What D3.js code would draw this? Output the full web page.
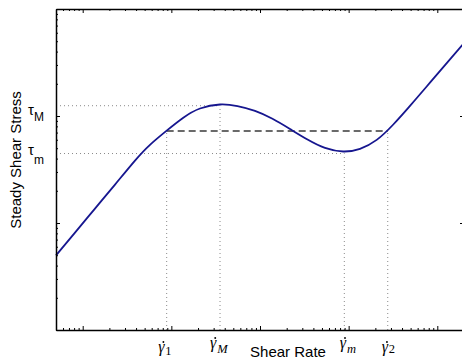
<!DOCTYPE html>
<html><head><meta charset="utf-8">
<script src="https://cdn.jsdelivr.net/npm/d3@7"></script>
<style>body{margin:0;background:#fff;} svg{display:block;}</style>
</head><body>
<svg id="chart" width="462" height="358"></svg>
<script>
// ---- data (log-log flow curve) ----
const shearRate   = [0.005, 0.00819, 0.01376, 0.02315, 0.0389, 0.0574, 0.0886, 0.1364, 0.2105, 0.354,
                     0.557, 0.878, 1.383, 2.180, 3.434, 5.41, 8.70,
                     13.43, 20.72, 31.88, 49.18, 75.9, 116.8, 200];
const shearStress = [4.98, 8.14, 13.63, 22.85, 38.31, 53.82, 73.04, 96.41, 117.5, 128.1,
                     123.7, 111.6, 94.16, 75.59, 60.31, 50.34, 46.58,
                     49.38, 59.80, 83.29, 124.3, 188.7, 285.8, 481.1];

const markRates       = [0.0886, 0.354, 8.93, 27.6];   // gamma_1, gamma_M, gamma_m, gamma_2
const markRateLabels  = ["1", "M", "m", "2"];
const markRateLevels  = [72.4, 124.8, 44.6, 72.4];     // stress each vertical guide reaches
const markStress      = [124.8, 44.6];                 // tau_M, tau_m
const markStressLabels= ["M", "m"];
const markStressRates = [0.354, 8.93];                 // guide ends at gamma_M / gamma_m
const plateauStress   = [72.4];
const plateauRates    = [0.0886, 27.6];
const xDomain = [0.005, 200];
const yDomain = [1, 1000];
const xTitle = "Shear Rate";
const yTitle = "Steady Shear Stress";

// ---- scales ----
const L = 56, R = 464, T = 9, B = 330;
const x = d3.scaleLog().domain(xDomain).range([L, R]);
const y = d3.scaleLog().domain(yDomain).range([B, T]);
const svg = d3.select("#chart");

const isMajor = t => Math.abs(Math.log10(t) - Math.round(Math.log10(t))) < 1e-9;
const xt = x.ticks(), yt = y.ticks();
const xMaj = xt.filter(isMajor), xMin = xt.filter(t => !isMajor(t));
const yMaj = yt.filter(isMajor), yMin = yt.filter(t => !isMajor(t));

function drawAxis(gen, tr, vals, size, domain) {
  const g = svg.append("g").attr("transform", tr)
    .call(gen.tickValues(vals).tickSize(size).tickSizeOuter(0).tickFormat(""));
  g.selectAll(".tick line").attr("stroke", "#000").attr("stroke-width", 1);
  if (!domain) g.select(".domain").remove();
  else g.select(".domain").attr("stroke", "#000").attr("stroke-width", 1.5);
}

// ---- guides ----
const guides = svg.append("g").attr("fill", "none");
markRates.forEach((r, i) => {
  guides.append("line")
    .attr("x1", x(r)).attr("x2", x(r))
    .attr("y1", B).attr("y2", y(markRateLevels[i]))
    .attr("stroke", "#8a8a8a").attr("stroke-width", 1).attr("stroke-dasharray", "1,3");
});
markStress.forEach((s, i) => {
  guides.append("line")
    .attr("x1", L).attr("x2", x(markStressRates[i]))
    .attr("y1", y(s)).attr("y2", y(s))
    .attr("stroke", "#8a8a8a").attr("stroke-width", 1).attr("stroke-dasharray", "1,3");
});
guides.append("line")
  .attr("x1", x(plateauRates[0])).attr("x2", x(plateauRates[1]))
  .attr("y1", y(plateauStress[0])).attr("y2", y(plateauStress[0]))
  .attr("stroke", "#3a3a3a").attr("stroke-width", 1.3).attr("stroke-dasharray", "7,4");

// ---- curve ----
const pts = shearRate.map((r, i) => [r, shearStress[i]]);
svg.append("path").datum(pts)
  .attr("fill", "none").attr("stroke", "#16168f").attr("stroke-width", 1.8)
  .attr("stroke-linejoin", "round")
  .attr("d", d3.line().x(d => x(d[0])).y(d => y(d[1])).curve(d3.curveNatural));

// ---- axes (box, inward ticks, no numbers) ----
drawAxis(d3.axisBottom(x), `translate(0,${B})`, xMaj, -4, true);
drawAxis(d3.axisBottom(x), `translate(0,${B})`, xMin, -2, false);
drawAxis(d3.axisTop(x), `translate(0,${T})`, xMaj, -4, true);
drawAxis(d3.axisTop(x), `translate(0,${T})`, xMin, -2, false);
drawAxis(d3.axisLeft(y), `translate(${L},0)`, yMaj, -4, true);
drawAxis(d3.axisLeft(y), `translate(${L},0)`, yMin, -2, false);
drawAxis(d3.axisRight(y), `translate(${R},0)`, yMaj, -4, true);
drawAxis(d3.axisRight(y), `translate(${R},0)`, yMin, -2, false);

// ---- tau labels ----
const tauPos = {M: {base: 9.3, sub: 6.4}, m: {base: 1.2, sub: 9}};
markStress.forEach((s, i) => {
  const lab = markStressLabels[i], p = tauPos[lab];
  const t = svg.append("text").attr("x", 44).attr("y", y(s) + p.base)
    .attr("text-anchor", "end")
    .attr("font-family", "'Liberation Sans', Arial, sans-serif")
    .attr("font-size", 15).attr("fill", "#000");
  t.append("tspan").text("τ");
  t.append("tspan").attr("dy", p.sub).attr("font-size", 12).text(lab);
});

// ---- gamma-dot labels ----
const gamPos = {"1": {dx: -8.5, base: 351.5, sub: 3.5}, "M": {dx: -10, base: 347.5, sub: 5.5},
                "m": {dx: -4.5, base: 347.5, sub: 5.5}, "2": {dx: -6, base: 351.5, sub: 1.5}};
markRates.forEach((r, i) => {
  const lab = markRateLabels[i], p = gamPos[lab];
  const x0 = x(r) + p.dx;
  const t = svg.append("text").attr("x", x0).attr("y", p.base)
    .attr("font-family", "'Liberation Serif', 'DejaVu Serif', serif")
    .attr("font-size", 16).attr("fill", "#000");
  t.append("tspan").attr("font-style", "italic").text("γ");
  t.append("tspan").attr("dy", p.sub).attr("dx", 0.8).attr("font-size", 12.5)
    .attr("font-style", /[A-Za-z]/.test(lab) ? "italic" : "normal").text(lab);
  // dot accent above gamma (time derivative)
  svg.append("circle").attr("cx", x0 + 5.2).attr("cy", p.base - 9.5).attr("r", 0.95).attr("fill", "#000");
});

// ---- titles ----
svg.append("text").attr("x", 288).attr("y", 356.5).attr("text-anchor", "middle")
  .attr("font-family", "'Liberation Sans', Arial, sans-serif").attr("font-size", 15)
  .attr("fill", "#000").text(xTitle);
svg.append("text").attr("transform", "translate(21,160) rotate(-90)").attr("text-anchor", "middle")
  .attr("font-family", "'Liberation Sans', Arial, sans-serif").attr("font-size", 15)
  .attr("fill", "#000").text(yTitle);
</script>
</body></html>
